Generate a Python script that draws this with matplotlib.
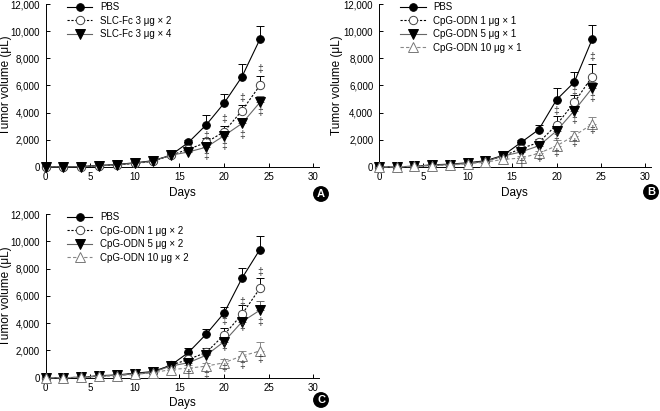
import matplotlib
matplotlib.use("Agg")
import matplotlib.pyplot as plt
from matplotlib.ticker import FuncFormatter

plt.rcParams['font.family'] = ['Liberation Sans', 'DejaVu Sans']

days = [0, 2, 4, 6, 8, 10, 12, 14, 16, 18, 20, 22, 24]

# panel A
pbs_a = [0, 0, 30, 100, 180, 300, 450, 850, 1800, 3100, 4700, 6650, 9400]
pbs_a_err = [0, 0, 30, 60, 80, 100, 80, 100, 200, 700, 700, 900, 1000]
slc2 = [0, 0, 20, 80, 150, 250, 400, 850, 1300, 1800, 2600, 4150, 6000]
slc2_err = [0, 0, 20, 50, 60, 80, 80, 100, 150, 300, 400, 400, 700]
slc4 = [0, 0, 20, 90, 160, 270, 420, 850, 1100, 1450, 2300, 3200, 4750]
slc4_err = [0, 0, 20, 50, 60, 80, 80, 100, 150, 250, 300, 400, 500]
dag_a_days = [18, 18, 20, 20, 22, 22, 24, 24]
dag_a_vals = [2250, 800, 3500, 1550, 5050, 2380, 7250, 4050]

# panel B
pbs_b = [0, 0, 50, 150, 200, 300, 450, 850, 1800, 2750, 4950, 6250, 9400]
pbs_b_err = [0, 0, 30, 60, 80, 100, 100, 150, 200, 350, 900, 750, 1050]
cpg1x1 = [0, 0, 40, 120, 170, 270, 400, 800, 1350, 1800, 3100, 4750, 6650]
cpg1x1_err = [0, 0, 30, 50, 60, 80, 80, 120, 150, 250, 650, 550, 900]
cpg5x1 = [0, 0, 40, 120, 170, 270, 400, 800, 1100, 1550, 2650, 4150, 5800]
cpg5x1_err = [0, 0, 30, 50, 60, 80, 80, 100, 150, 200, 300, 450, 450]
cpg10x1 = [0, 0, 30, 100, 130, 220, 350, 550, 650, 1000, 1550, 2300, 3150]
cpg10x1_err = [0, 0, 30, 50, 60, 80, 80, 100, 150, 200, 400, 350, 550]
dag_b_days = [18, 20, 20, 20, 22, 22, 22, 24, 24, 24]
dag_b_vals = [620, 4150, 2200, 1000, 5500, 3450, 1750, 8100, 5050, 2700]
sdag_b_days = [16]
sdag_b_vals = [280]

# panel C
pbs_c = [0, 0, 30, 150, 200, 330, 450, 900, 1850, 3200, 4750, 7300, 9400]
pbs_c_err = [0, 0, 30, 60, 80, 100, 100, 150, 300, 400, 450, 750, 1000]
cpg1x2 = [0, 0, 30, 120, 180, 280, 400, 900, 1350, 1850, 3150, 4650, 6550]
cpg1x2_err = [0, 0, 30, 50, 60, 80, 80, 120, 200, 350, 500, 700, 750]
cpg5x2 = [0, 0, 30, 120, 180, 280, 400, 850, 1100, 1650, 2650, 4100, 4950]
cpg5x2_err = [0, 0, 30, 50, 60, 80, 80, 100, 150, 250, 300, 400, 700]
cpg10x2 = [0, 0, 30, 100, 150, 250, 350, 600, 700, 850, 1100, 1600, 1950]
cpg10x2_err = [0, 0, 30, 50, 60, 80, 80, 100, 200, 250, 300, 350, 700]
dag_c_days = [18, 20, 20, 20, 22, 22, 22, 24, 24, 24]
dag_c_vals = [200, 4150, 2250, 700, 5550, 3700, 900, 7750, 4100, 1400]
sdag_c_days = [16]
sdag_c_vals = [250]

styles = {
    'pbs': dict(color='black', ls='-', marker='o', mfc='black', mec='black', ms=5.5),
    'circ': dict(color='black', ls=(0, (2, 1.5)), marker='o', mfc='white', mec='#444444', ms=6),
    'dtri': dict(color='#666666', ls='-', marker='v', mfc='black', mec='black', ms=6.5),
    'utri': dict(color='#888888', ls=(0, (3, 2)), marker='^', mfc='white', mec='#777777', ms=7),
}


def draw(ax, series, dd, dv, sd=None, sv=None, ylab_x=-0.121):
    for label, vals, err, key in series:
        st = styles[key]
        ax.errorbar(days, vals, yerr=[[0] * len(err), err], fmt='none',
                    ecolor=st['color'], elinewidth=0.7, capsize=3, capthick=0.7,
                    clip_on=False)
        ax.plot(days, vals, label=label, lw=0.8, mew=0.7, clip_on=False, zorder=3, **st)
    for d, v in zip(dd, dv):
        ax.text(d, v, '\u2021', ha='center', va='center', fontsize=7.5, color='#333333')
    if sd:
        for d, v in zip(sd, sv):
            ax.text(d, v, '\u2020', ha='center', va='center', fontsize=7.5, color='#333333')
    ax.set_xlim(0, 30.6)
    ax.set_ylim(0, 12000)
    ax.set_xticks(range(0, 31, 5))
    ax.set_yticks(range(0, 12001, 2000))
    ax.yaxis.set_major_formatter(FuncFormatter(lambda v, p: f'{int(v):,}'))
    ax.tick_params(direction='in', length=3, width=0.7, labelsize=7, pad=4)
    for s in ['top', 'right']:
        ax.spines[s].set_visible(False)
    for s in ['left', 'bottom']:
        ax.spines[s].set_linewidth(0.7)
    ax.set_xlabel('Days', fontsize=8.5, labelpad=3)
    ax.set_ylabel('Tumor volume (\u03bcL)', fontsize=8.5)
    ax.yaxis.set_label_coords(ylab_x, 0.5)
    ax.legend(loc='upper left', bbox_to_anchor=(0.065, 1.035), frameon=False, fontsize=7,
              numpoints=1, handlelength=2.6, labelspacing=0.35, handletextpad=0.8,
              borderaxespad=0)


fig = plt.figure(figsize=(6.6, 4.11), dpi=100)
ax_a = fig.add_axes([0.069, 0.594, 0.414, 0.396])
ax_b = fig.add_axes([0.574, 0.594, 0.412, 0.396])
ax_c = fig.add_axes([0.069, 0.081, 0.414, 0.398])

draw(ax_a, [('PBS', pbs_a, pbs_a_err, 'pbs'),
            ('SLC-Fc 3 \u03bcg \u00d7 2', slc2, slc2_err, 'circ'),
            ('SLC-Fc 3 \u03bcg \u00d7 4', slc4, slc4_err, 'dtri')],
     dag_a_days, dag_a_vals)
draw(ax_b, [('PBS', pbs_b, pbs_b_err, 'pbs'),
            ('CpG-ODN 1 \u03bcg \u00d7 1', cpg1x1, cpg1x1_err, 'circ'),
            ('CpG-ODN 5 \u03bcg \u00d7 1', cpg5x1, cpg5x1_err, 'dtri'),
            ('CpG-ODN 10 \u03bcg \u00d7 1', cpg10x1, cpg10x1_err, 'utri')],
     dag_b_days, dag_b_vals, sdag_b_days, sdag_b_vals, ylab_x=-0.132)
draw(ax_c, [('PBS', pbs_c, pbs_c_err, 'pbs'),
            ('CpG-ODN 1 \u03bcg \u00d7 2', cpg1x2, cpg1x2_err, 'circ'),
            ('CpG-ODN 5 \u03bcg \u00d7 2', cpg5x2, cpg5x2_err, 'dtri'),
            ('CpG-ODN 10 \u03bcg \u00d7 2', cpg10x2, cpg10x2_err, 'utri')],
     dag_c_days, dag_c_vals, sdag_c_days, sdag_c_vals)

for lbl, x, y in [('A', 321 / 660, 1 - 194 / 411), ('B', 651 / 660, 1 - 192 / 411),
                  ('C', 321 / 660, 1 - 400 / 411)]:
    fig.text(x, y, lbl, ha='center', va='center', color='white', fontsize=8,
             fontweight='bold',
             bbox=dict(boxstyle='circle,pad=0.2', fc='black', ec='black'))

fig.savefig('out.png', dpi=100)
